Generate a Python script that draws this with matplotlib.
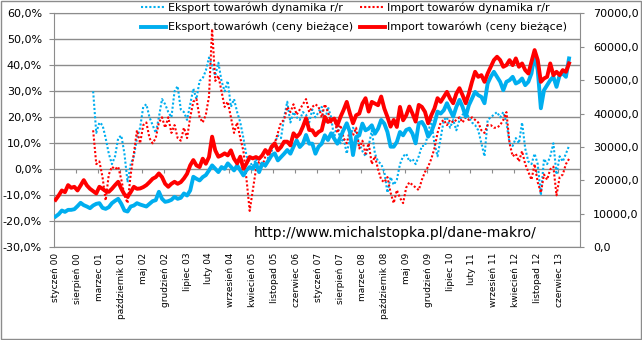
import matplotlib
matplotlib.use('Agg')
import matplotlib.pyplot as plt
import numpy as np
from matplotlib.ticker import FuncFormatter, NullFormatter
from matplotlib.patches import Rectangle

# ---------------- data ----------------
n_months = 165            # styczeń 2000 .. wrzesień 2013
n_categories = 168        # category axis length (to grudzień 2013)

tick_labels = ['styczeń 00', 'sierpień 00', 'marzec 01', 'październik 01', 'maj 02',
               'grudzień 02', 'lipiec 03', 'luty 04', 'wrzesień 04', 'kwiecień 05',
               'listopad 05', 'czerwiec 06', 'styczeń 07', 'sierpień 07', 'marzec 08',
               'październik 08', 'maj 09', 'grudzień 09', 'lipiec 10', 'luty 11',
               'wrzesień 11', 'kwiecień 12', 'listopad 12', 'czerwiec 13']
label_step = 7

export_value = [
    9200, 9900, 11000, 10600, 11200, 11200, 11400, 12300, 13300, 12600, 12200, 11700,
    12500, 13000, 13200, 11800, 11500, 12000, 13200, 13900, 14500, 13000, 11000, 10700,
    12200, 12500, 13200, 12800,
    12500, 12200, 13000, 13800, 14100, 16600, 14500, 13600, 13800, 14200, 15100, 14500,
    14800, 16100, 15500, 17000, 21100, 20500, 20000, 21000, 21600, 23000, 24500, 23500,
    22500, 24000, 23500, 25100,
    24100, 23000, 24500, 23000, 21500, 23100, 24000, 23500, 25100, 22500, 25000, 24500,
    26000, 27500, 28100, 26000, 27000, 28000, 29100, 28000, 30100, 32000, 30000, 31000,
    33600, 31000, 31000, 28000,
    30100, 31000, 33500, 32100, 34100, 32500, 31000, 33000, 35100, 37100, 34500, 27600,
    33000, 33500, 37000, 35000, 35500, 36500, 34000, 35500, 38100, 37000, 34500, 30100,
    30100, 31500, 34500, 33500, 35100, 35500, 34000, 31100, 37100, 37500, 36000, 33100,
    34500, 37000, 40600, 40000, 41000, 43100, 41000, 39100, 42000, 44100, 42000, 39100,
    42500, 44500, 46500, 45500, 45000, 43100, 49000, 51000, 52500, 51000, 49500, 47000,
    49500, 50000, 51000, 49000, 49500, 50500, 48500, 49500, 52000, 58000, 53000, 41600,
    47000, 48500, 50000, 51000, 48000, 51500, 52000, 51000, 56500]

import_value = [
    14200, 15500, 17000, 16500, 18600, 17800, 18100, 17000, 18500, 20100, 18500, 17500,
    16800, 16100, 18100, 17500, 16800, 16600, 17500, 18600, 19600, 17500, 15800, 15100,
    16500, 18100, 17500, 17600,
    18000, 18600, 19500, 20500, 21000, 22100, 21000, 19000, 18100, 19000, 19600, 19000,
    19500, 20600, 22000, 24500, 26100, 24500, 24000, 26500, 25000, 27000, 33100, 29000,
    27100, 27500, 28100, 27500,
    29000, 26500, 25100, 27100, 23500, 25100, 27000, 26600, 27000, 26500, 27500, 29100,
    28000, 30100, 31100, 29000, 30000, 31600, 31600, 30500, 34100, 33000, 34000, 36100,
    38600, 35100, 35000, 33500,
    34500, 35000, 39000, 37500, 38000, 38500, 36500, 39000, 41100, 43500, 40100, 37100,
    39500, 40000, 43000, 44600, 40600, 43500, 43000, 42500, 45100, 41500, 39000, 36100,
    38100, 36000, 42000, 38000, 39500, 42100, 40000, 37600, 42600, 42000, 40500, 37100,
    39500, 41500, 44600, 43500, 45000, 46500, 44500, 43100, 46000, 47600, 45500, 43100,
    46000, 49500, 52500, 51000, 51500, 49500, 52000, 54000, 56000, 57000, 56000, 54000,
    54500, 56000, 54500, 56500, 54000, 55000, 53000, 52000, 55500, 59000, 56000, 49500,
    50500, 51000, 55000, 51500, 52500, 51500, 53000, 52500, 55000]

yoy_start = 12   # r/r series start in styczeń 2001
export_yoy = [
    30, 14, 18, 17, 12, 6, 2, 5, 12, 13, 6, -5, 2, 5, 12, 16,
    24, 25, 20, 17, 14, 20, 27, 25, 22, 20, 30, 32, 23, 22, 19, 25, 31, 27, 34, 35,
    38, 43, 40, 36, 41, 34, 30, 34,
    24, 27, 22, 18, 12, 5, 3, 1, 4, 0, 3, 1, 5, 7, 10, 13, 12, 20, 26, 18,
    22, 20, 19, 22, 21, 18, 23, 20,
    22, 24, 18, 24, 20, 12, 18, 10, 12, 6, 12, 16, 14, 10, 7, 5, 9, 15, 6, 3,
    2, -1, -9, -3, -6, -4, 2, 5, 6, 3, 4, 2, 5, 9, 9, 14, 19, 10, 5, 12,
    19, 20, 16, 19, 15, 19, 21, 22, 20, 18, 17, 15, 10, 5, 19, 20, 21, 22, 20, 22,
    18, 10, 9, 12, 10, 18, 8, 3, 2, 6, 2, -10, 4, 2, 5, 10, -2, 5, 3, 6, 9]

import_yoy = [
    15, 2, 3, -3, -12, -2, 1, 0, 1, -4, -10, -13, -2, 6, 15, 10,
    17, 18, 12, 10, 12, 18, 20, 16, 20, 14, 17, 12, 11, 16, 12, 20, 26, 27, 20, 18,
    21, 28, 54, 34, 36, 30, 24, 26,
    20, 14, 18, 12, 7, -4, -16, -8, 0, 3, 1, 5, 6, 8, 10, 14, 18, 19, 24, 22,
    25, 21, 23, 25, 27, 22, 24, 25,
    24, 20, 25, 22, 18, 20, 14, 17, 12, 10, 15, 13, 16, 8, 11, 6, 10, 2, 5, 0,
    -4, -5, -3, -9, -13, -8, -11, -13, -7, -5, -6, -7, -8, -4, -1, 1, 4, 8, 14, 18,
    19, 17, 19, 18, 19, 20, 18, 20, 19, 20, 19, 18, 15, 14, 17, 17, 16, 16, 17, 19,
    22, 10, 5, 6, 3, 7, 2, -1, -4, 2, -5, -9, -2, -4, 0, 1, -10, -3, -2, 2, 4]

series_names = ['Eksport towarówh dynamika r/r', 'Import towarów dynamika r/r',
                'Eksport towarówh (ceny bieżące)', 'Import towarówh (ceny bieżące)']
watermark = 'http://www.michalstopka.pl/dane-makro/'

# ---------------- style ----------------
BLUE = '#00AEEF'
RED = '#FF0000'
GRAY = '#8c8c8c'

plt.rcParams['font.family'] = ['DejaVu Sans']

fig = plt.figure(figsize=(6.42, 3.40), dpi=100)
ax = fig.add_axes([54 / 642, 1 - 247.3 / 340, 526 / 642, 234 / 340])
ax2 = ax.twinx()

months = np.arange(n_months)
yoy_x = months[yoy_start:]

l1, = ax.plot(yoy_x, export_yoy, color=BLUE, lw=1.5, ls=(0, (1, 1)), zorder=3)
l2, = ax.plot(yoy_x, import_yoy, color=RED, lw=1.5, ls=(0, (1, 1)), zorder=3)
l3, = ax2.plot(months, export_value, color=BLUE, lw=2.8, solid_joinstyle='round', zorder=3)
l4, = ax2.plot(months, import_value, color=RED, lw=2.8, solid_joinstyle='round', zorder=4)

ax.set_xlim(-0.5, n_categories - 0.5)
ax.set_ylim(-30, 60)
ax2.set_ylim(0, 70000)

ax.set_yticks(np.arange(-30, 61, 10))
ax.yaxis.set_major_formatter(FuncFormatter(lambda v, p: f"{v:.1f}%".replace('.', ',')))
ax2.set_yticks(np.arange(0, 70001, 10000))
ax2.yaxis.set_major_formatter(FuncFormatter(lambda v, p: f"{v:.1f}".replace('.', ',')))

ax.set_xticks(np.arange(0, len(tick_labels) * label_step, label_step))
ax.set_xticklabels(tick_labels, rotation=90, fontsize=6.5)
ax.tick_params(axis='x', length=0, pad=4)
ax.tick_params(axis='y', length=3.6, color=GRAY, labelsize=8, pad=5)
ax2.tick_params(axis='y', length=2.9, color=GRAY, labelsize=8, pad=6.5)

ax.yaxis.grid(True, color=GRAY, lw=1)
ax.set_axisbelow(True)

for s in ['left', 'top', 'bottom']:
    ax.spines[s].set_color(GRAY)
ax.spines['right'].set_visible(False)
for s in ['left', 'top', 'bottom']:
    ax2.spines[s].set_visible(False)
ax2.spines['right'].set_color(GRAY)

# small category tick marks on the 0% line
sec = ax.secondary_xaxis(1 / 3)
sec.set_xticks(np.arange(label_step - 0.5, n_categories, label_step))
sec.xaxis.set_major_formatter(NullFormatter())
sec.tick_params(axis='x', length=3, color=GRAY, direction='out')
for s in sec.spines.values():
    s.set_visible(False)

ax.text(0.380, 0.061, watermark, transform=ax.transAxes, fontsize=10,
        ha='left', va='center', zorder=5)

fig.legend([l1, l3, l2, l4],
           [series_names[0], series_names[2], series_names[1], series_names[3]],
           loc='upper left', bbox_to_anchor=(140 / 642, 1 - 1.5 / 340), ncol=2, frameon=False,
           fontsize=8, handlelength=2.25, handletextpad=0.2, columnspacing=0.6,
           labelspacing=0.8, borderpad=0.1, borderaxespad=0)

fig.patches.append(Rectangle((0.001, 0.002), 0.997, 0.995, transform=fig.transFigure,
                             fill=False, edgecolor=GRAY, lw=1))

fig.savefig('out.png', dpi=100)
